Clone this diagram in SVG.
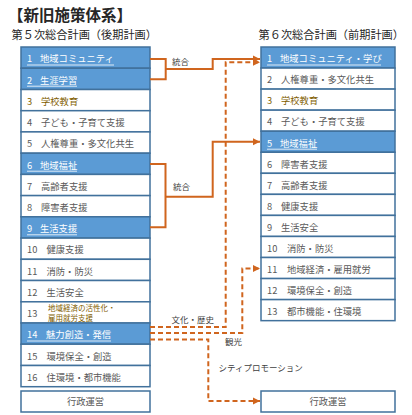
<svg xmlns="http://www.w3.org/2000/svg" width="412" height="415" viewBox="0 0 412 415">
<style>
text{font-family:"Noto Sans CJK JP","Noto Sans",sans-serif;}
.cell{fill:#fff;stroke:#41719C;stroke-width:1.5;}
.hl{fill:#5B9BD5;}
.t{font-size:9.3px;fill:#595959;}
.w{fill:#fff;}
.b{fill:#7F6000;}
.s{font-size:7.5px;fill:#7F6000;}
.ul{stroke:#fff;stroke-width:0.8;}
.lbl{font-size:8.5px;fill:#404040;}
.sol{fill:none;stroke:#D0651E;stroke-width:2;}
.das{fill:none;stroke:#D0651E;stroke-width:2;stroke-dasharray:5 3;}
.ttl{font-size:15.5px;font-weight:bold;fill:#262626;}
.sub{font-size:11.2px;fill:#262626;}
</style>
<defs>
<marker id="ah" markerUnits="userSpaceOnUse" markerWidth="8" markerHeight="8" refX="7" refY="4" orient="auto">
<path d="M0,0.5 L7,4 L0,7.5 Z" fill="#D0651E"/>
</marker>
</defs>

<text class="ttl" x="8" y="20.5">【新旧施策体系】</text>
<text class="sub" x="11.5" y="39">第５次総合計画（後期計画）</text>
<text class="sub" x="258.5" y="39">第６次総合計画（前期計画）</text>

<g id="left">
<g id="L1"><rect class="cell hl" x="21" y="47" width="129" height="21.2"/><text class="t w" y="62.3"><tspan x="27">1</tspan><tspan x="40">地域コミュニティ</tspan></text><line class="ul" x1="27" y1="65" x2="114" y2="65"/></g>
<g id="L2"><rect class="cell hl" x="21" y="68.2" width="129" height="21.3"/><text class="t w" y="83.5"><tspan x="27">2</tspan><tspan x="40">生涯学習</tspan></text><line class="ul" x1="27" y1="86.2" x2="77" y2="86.2"/></g>
<g id="L3"><rect class="cell" x="21" y="89.5" width="129" height="21.2"/><text class="t b" y="104.8"><tspan x="27">3</tspan><tspan x="41">学校教育</tspan></text></g>
<g id="L4"><rect class="cell" x="21" y="110.7" width="129" height="21.2"/><text class="t" y="126"><tspan x="27">4</tspan><tspan x="41">子ども・子育て支援</tspan></text></g>
<g id="L5"><rect class="cell" x="21" y="131.9" width="129" height="21.3"/><text class="t" y="147.2"><tspan x="27">5</tspan><tspan x="41">人権尊重・多文化共生</tspan></text></g>
<g id="L6"><rect class="cell hl" x="21" y="153.2" width="129" height="21.2"/><text class="t w" y="168.5"><tspan x="27">6</tspan><tspan x="40">地域福祉</tspan></text><line class="ul" x1="27" y1="171.2" x2="77" y2="171.2"/></g>
<g id="L7"><rect class="cell" x="21" y="174.4" width="129" height="21.2"/><text class="t" y="189.7"><tspan x="27">7</tspan><tspan x="41">高齢者支援</tspan></text></g>
<g id="L8"><rect class="cell" x="21" y="195.6" width="129" height="21.2"/><text class="t" y="210.9"><tspan x="27">8</tspan><tspan x="41">障害者支援</tspan></text></g>
<g id="L9"><rect class="cell hl" x="21" y="216.8" width="129" height="21.3"/><text class="t w" y="232.1"><tspan x="27">9</tspan><tspan x="40">生活支援</tspan></text><line class="ul" x1="27" y1="234.8" x2="77" y2="234.8"/></g>
<g id="L10"><rect class="cell" x="21" y="238.1" width="129" height="21.2"/><text class="t" y="253.4"><tspan x="27">10</tspan><tspan x="46.5">健康支援</tspan></text></g>
<g id="L11"><rect class="cell" x="21" y="259.3" width="129" height="21.2"/><text class="t" y="274.6"><tspan x="27">11</tspan><tspan x="46.5">消防・防災</tspan></text></g>
<g id="L12"><rect class="cell" x="21" y="280.5" width="129" height="21.3"/><text class="t" y="295.8"><tspan x="27">12</tspan><tspan x="46.5">生活安全</tspan></text></g>
<g id="L13"><rect class="cell" x="21" y="301.8" width="129" height="21.2"/><text class="t" x="27" y="317">13</text><text class="s" x="48" y="311">地域経済の活性化・</text><text class="s" x="48" y="321">雇用就労支援</text></g>
<g id="L14"><rect class="cell hl" x="21" y="323" width="129" height="21.2"/><text class="t w" y="338.3"><tspan x="27">14</tspan><tspan x="46">魅力創造・発信</tspan></text><line class="ul" x1="27" y1="341" x2="111" y2="341"/></g>
<g id="L15"><rect class="cell" x="21" y="344.2" width="129" height="21.3"/><text class="t" y="359.5"><tspan x="27">15</tspan><tspan x="46.5">環境保全・創造</tspan></text></g>
<g id="L16"><rect class="cell" x="21" y="365.5" width="129" height="21.2"/><text class="t" y="380.8"><tspan x="27">16</tspan><tspan x="46.5">住環境・都市機能</tspan></text></g>
<g id="Ladmin"><rect class="cell" x="21" y="391" width="129" height="21"/><text class="t" x="85.5" y="405" text-anchor="middle">行政運営</text></g>
</g>

<g id="right">
<g id="R1"><rect class="cell hl" x="261" y="47" width="134" height="21.05"/><text class="t w" y="62.3"><tspan x="267">1</tspan><tspan x="280">地域コミュニティ・学び</tspan></text><line class="ul" x1="267" y1="65" x2="381" y2="65"/></g>
<g id="R2"><rect class="cell" x="261" y="68.05" width="134" height="21.05"/><text class="t" y="83.35"><tspan x="267">2</tspan><tspan x="281">人権尊重・多文化共生</tspan></text></g>
<g id="R3"><rect class="cell" x="261" y="89.1" width="134" height="21.05"/><text class="t b" y="104.4"><tspan x="267">3</tspan><tspan x="281">学校教育</tspan></text></g>
<g id="R4"><rect class="cell" x="261" y="110.15" width="134" height="21.05"/><text class="t" y="125.45"><tspan x="267">4</tspan><tspan x="281">子ども・子育て支援</tspan></text></g>
<g id="R5"><rect class="cell hl" x="261" y="131.2" width="134" height="21.05"/><text class="t w" y="146.5"><tspan x="267">5</tspan><tspan x="280">地域福祉</tspan></text><line class="ul" x1="267" y1="149.2" x2="317" y2="149.2"/></g>
<g id="R6"><rect class="cell" x="261" y="152.25" width="134" height="21.05"/><text class="t" y="167.55"><tspan x="267">6</tspan><tspan x="281">障害者支援</tspan></text></g>
<g id="R7"><rect class="cell" x="261" y="173.3" width="134" height="21.05"/><text class="t" y="188.6"><tspan x="267">7</tspan><tspan x="281">高齢者支援</tspan></text></g>
<g id="R8"><rect class="cell" x="261" y="194.35" width="134" height="21.05"/><text class="t" y="209.65"><tspan x="267">8</tspan><tspan x="281">健康支援</tspan></text></g>
<g id="R9"><rect class="cell" x="261" y="215.4" width="134" height="21.05"/><text class="t" y="230.7"><tspan x="267">9</tspan><tspan x="281">生活安全</tspan></text></g>
<g id="R10"><rect class="cell" x="261" y="236.45" width="134" height="21.05"/><text class="t" y="251.75"><tspan x="267">10</tspan><tspan x="287">消防・防災</tspan></text></g>
<g id="R11"><rect class="cell" x="261" y="257.5" width="134" height="21.05"/><text class="t" y="272.8"><tspan x="267">11</tspan><tspan x="287">地域経済・雇用就労</tspan></text></g>
<g id="R12"><rect class="cell" x="261" y="278.55" width="134" height="21.05"/><text class="t" y="293.85"><tspan x="267">12</tspan><tspan x="287">環境保全・創造</tspan></text></g>
<g id="R13"><rect class="cell" x="261" y="299.6" width="134" height="21.05"/><text class="t" y="314.9"><tspan x="267">13</tspan><tspan x="287">都市機能・住環境</tspan></text></g>
<g id="Radmin"><rect class="cell" x="261" y="391" width="134" height="21"/><text class="t" x="328" y="405" text-anchor="middle">行政運営</text></g>
</g>

<g id="connectors">
<path class="sol" d="M150,59 H165.7 V79.3 H150"/>
<path class="sol" d="M165.7,69 H212.7 V59 H260" marker-end="url(#ah)"/>
<path class="sol" d="M150,164 H165.5 V227.3 H150"/>
<path class="sol" d="M165.5,196.7 H212.7 V141.7 H260" marker-end="url(#ah)"/>
<path class="das" d="M150,327 H225.7 V62.3 H260" marker-end="url(#ah)"/>
<path class="das" d="M150,333 H242.3 V268.5 H260" marker-end="url(#ah)"/>
<path class="das" d="M150,339.5 H208.3 V401 H260" marker-end="url(#ah)"/>
<text class="lbl" x="172" y="65">統合</text>
<text class="lbl" x="173" y="190">統合</text>
<text class="lbl" x="171.5" y="322.5">文化・歴史</text>
<text class="lbl" x="225" y="345">観光</text>
<text class="lbl" x="218.5" y="371">シティプロモーション</text>
</g>
</svg>
